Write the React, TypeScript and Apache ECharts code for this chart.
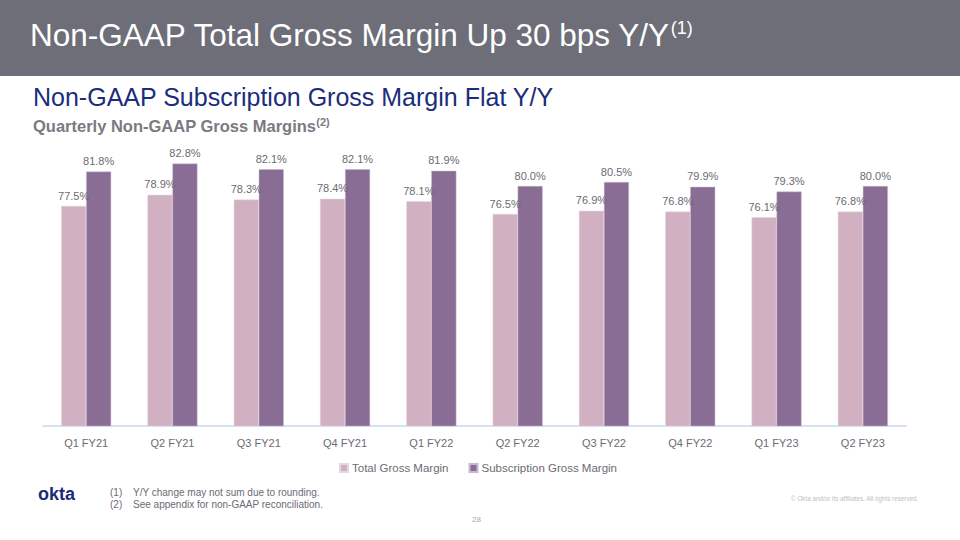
import React, { useEffect, useRef } from "react";
import * as echarts from "echarts";

const categories = ["Q1 FY21", "Q2 FY21", "Q3 FY21", "Q4 FY21", "Q1 FY22", "Q2 FY22", "Q3 FY22", "Q4 FY22", "Q1 FY23", "Q2 FY23"];
const totalGrossMargin = [77.5, 78.9, 78.3, 78.4, 78.1, 76.5, 76.9, 76.8, 76.1, 76.8];
const subscriptionGrossMargin = [81.8, 82.8, 82.1, 82.1, 81.9, 80.0, 80.5, 79.9, 79.3, 80.0];
const seriesNames = ["Total Gross Margin", "Subscription Gross Margin"];
const footnotes = ["Y/Y change may not sum due to rounding.", "See appendix for non-GAAP reconciliation."];

const FONT = "Liberation Sans";
const LABEL_GRAY = "#6b6b73";

export default function App() {
  const ref = useRef<HTMLDivElement>(null);
  useEffect(() => {
    if (!ref.current) return;
    const chart = echarts.init(ref.current, undefined, { renderer: "svg" });
    const labelCfg = {
      show: true,
      position: "top" as const,
      color: LABEL_GRAY,
      fontSize: 11,
      fontFamily: FONT,
      formatter: (p: any) => Number(p.value).toFixed(1) + "%",
    };
    chart.setOption({
      animation: false,
      textStyle: { fontFamily: FONT },
      grid: { left: 43, right: 54, top: 146, bottom: 114, containLabel: false },
      xAxis: {
        type: "category",
        data: categories,
        axisLine: { lineStyle: { color: "#c6d9f0", width: 1.5 } },
        axisTick: { show: false },
        axisLabel: { color: LABEL_GRAY, fontSize: 11, margin: 11, fontFamily: FONT },
      },
      yAxis: { type: "value", min: 50, max: 85, show: false, splitLine: { show: false } },
      legend: {
        left: 334,
        top: 457,
        icon: "rect",
        itemWidth: 8,
        itemHeight: 8,
        itemGap: 20,
        textStyle: { color: LABEL_GRAY, fontSize: 11.5, fontFamily: FONT, padding: [0, 0, 0, -1] },
        data: seriesNames,
      },
      series: [
        {
          name: seriesNames[0],
          type: "bar",
          data: totalGrossMargin,
          barWidth: 25,
          barGap: "0%",
          itemStyle: { color: "#d1b0c1", borderColor: "#e6d6df", borderWidth: 0.5 },
          label: labelCfg,
        },
        {
          name: seriesNames[1],
          type: "bar",
          data: subscriptionGrossMargin,
          barWidth: 25,
          barGap: "0%",
          itemStyle: { color: "#8a6d95", borderColor: "#c9b9cf", borderWidth: 0.5 },
          label: labelCfg,
        },
      ],
      graphic: [
        { type: "rect", left: 0, top: 0, shape: { width: 960, height: 76 }, style: { fill: "#6d6e78" }, silent: true },
        {
          type: "text",
          left: 30,
          top: 19,
          style: {
            text: "Non-GAAP Total Gross Margin Up 30 bps Y/Y{sup|(1)}",
            fill: "#ffffff",
            font: `31.5px ${FONT}`,
            rich: { sup: { fontSize: 18, fill: "#ffffff", padding: [0, 0, 14, 0], fontFamily: FONT } },
          },
        },
        {
          type: "text",
          left: 33,
          top: 84,
          style: { text: "Non-GAAP Subscription Gross Margin Flat Y/Y", fill: "#1b2d7c", font: `25px ${FONT}` },
        },
        {
          type: "text",
          left: 33,
          top: 116,
          style: {
            text: "Quarterly Non-GAAP Gross Margins{sup|(2)}",
            fill: "#7a7a82",
            font: `bold 16.5px ${FONT}`,
            rich: { sup: { fontSize: 11, fontWeight: "bold", fill: "#7a7a82", padding: [0, 0, 8, 0], fontFamily: FONT } },
          },
        },
        { type: "text", left: 38, top: 485, style: { text: "okta", fill: "#1a2b7a", font: `bold 18px ${FONT}` } },
        { type: "text", left: 110, top: 487, style: { text: "(1)", fill: "#6b6b73", font: `10px ${FONT}` } },
        { type: "text", left: 133, top: 487, style: { text: footnotes[0], fill: "#6b6b73", font: `10px ${FONT}` } },
        { type: "text", left: 110, top: 499, style: { text: "(2)", fill: "#6b6b73", font: `10px ${FONT}` } },
        { type: "text", left: 133, top: 499, style: { text: footnotes[1], fill: "#6b6b73", font: `10px ${FONT}` } },
        { type: "text", left: 472, top: 515, style: { text: "28", fill: "#a8a8ae", font: `8px ${FONT}` } },
        {
          type: "text",
          left: 791,
          top: 495,
          style: { text: "© Okta and/or its affiliates. All rights reserved.", fill: "#c0c0c6", font: `6.3px ${FONT}` },
        },
      ],
    });
    return () => chart.dispose();
  }, []);
  return <div ref={ref} style={{ position: "fixed", left: 0, top: 0, width: 960, height: 540, background: "#fff" }} />;
}
